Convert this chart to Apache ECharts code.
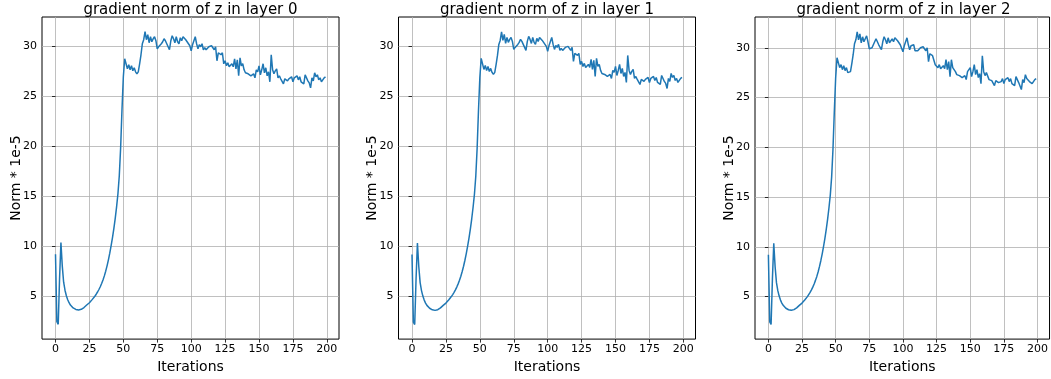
<!DOCTYPE html>
<html><head><meta charset="utf-8">
<script src="https://cdn.jsdelivr.net/npm/echarts@6/dist/echarts.min.js"></script>
<style>html,body{margin:0;padding:0;background:#fff}#c{width:1051px;height:379px}</style>
</head><body><div id="c"></div>
<script>
const titles = ['gradient norm of z in layer 0', 'gradient norm of z in layer 1', 'gradient norm of z in layer 2'];
const xTicks = [0, 25, 50, 75, 100, 125, 150, 175, 200];
const yTicks = [5, 10, 15, 20, 25, 30];

const normLayer0 = [
  9.2, 2.45, 2.2, 6.8, 10.35, 8.0, 6.4, 5.6, 5.05, 4.65,
  4.35, 4.12, 3.95, 3.83, 3.74, 3.68, 3.64, 3.62, 3.64, 3.69,
  3.77, 3.87, 3.99, 4.12, 4.22, 4.35, 4.5, 4.66, 4.83, 5.0,
  5.2, 5.42, 5.67, 5.95, 6.27, 6.63, 7.03, 7.5, 8.03, 8.63,
  9.3, 10.05, 10.85, 11.75, 12.75, 13.9, 15.2, 17.0, 19.8, 23.6,
  26.9, 28.7, 28.7, 27.7, 28.1, 27.6, 28.0, 27.5, 27.8, 27.4,
  27.2, 27.4, 28.2, 29.1, 30.2, 30.6, 31.4, 30.6, 31.1, 30.3,
  30.9, 30.4, 30.7, 30.9, 30.5, 29.7, 29.9, 29.8, 30.2, 30.4,
  30.7, 30.5, 30.2, 30.3, 29.6, 30.5, 31.0, 30.7, 30.3, 30.9,
  30.4, 30.2, 30.8, 30.5, 30.9, 31.0, 30.6, 30.4, 30.2, 30.0,
  29.5, 30.1, 30.0, 30.9, 30.2, 29.7, 30.1, 29.9, 30.2, 29.6,
  29.8, 29.6, 29.7, 29.9, 29.8, 30.0, 29.9, 29.6, 29.9, 28.5,
  29.3, 29.2, 29.1, 29.3, 28.2, 28.5, 28.0, 28.3, 27.9, 28.0,
  28.2, 27.9, 28.7, 27.7, 28.6, 27.0, 28.8, 28.0, 28.2, 27.6,
  27.3, 27.3, 27.2, 27.3, 27.0, 26.9, 27.2, 26.8, 27.6, 27.4,
  28.0, 27.1, 27.6, 28.2, 27.3, 27.8, 27.0, 27.4, 26.4, 29.1,
  27.6, 27.2, 27.5, 27.7, 26.8, 27.0, 26.7, 26.6, 26.2, 26.7,
  26.8, 26.5, 26.7, 26.6, 26.9, 26.4, 26.8, 26.7, 27.0, 26.6,
  26.9, 26.4, 26.3, 26.2, 27.1, 27.2, 26.5, 26.3, 25.8, 26.8,
  26.5, 27.3, 26.9, 27.1, 26.6, 26.8, 26.4, 26.5, 26.8, 26.9
];
const normLayer1 = [
  9.2, 2.45, 2.2, 6.8, 10.35, 8.0, 6.4, 5.6, 5.05, 4.65,
  4.35, 4.12, 3.95, 3.83, 3.74, 3.68, 3.64, 3.62, 3.64, 3.69,
  3.77, 3.87, 3.99, 4.12, 4.22, 4.35, 4.5, 4.66, 4.83, 5.0,
  5.2, 5.42, 5.67, 5.95, 6.27, 6.63, 7.03, 7.5, 8.03, 8.63,
  9.3, 10.05, 10.85, 11.75, 12.75, 13.9, 15.2, 17.0, 19.8, 23.6,
  26.9, 28.8, 28.7, 27.7, 28.1, 27.6, 28.0, 27.5, 27.8, 27.4,
  27.2, 27.4, 28.2, 29.1, 30.2, 30.6, 31.45, 30.6, 31.2, 30.3,
  30.9, 30.4, 30.7, 30.9, 30.5, 29.7, 29.9, 29.8, 30.2, 30.4,
  30.7, 30.5, 30.2, 30.3, 29.6, 30.5, 31.0, 30.7, 30.3, 30.9,
  30.4, 30.2, 30.8, 30.5, 30.9, 31.0, 30.6, 30.4, 30.2, 30.0,
  29.5, 30.1, 30.0, 30.9, 30.2, 29.7, 30.1, 29.9, 30.2, 29.6,
  29.8, 29.6, 29.7, 29.9, 29.8, 30.0, 29.9, 29.6, 29.9, 28.5,
  29.3, 29.2, 29.1, 29.3, 28.2, 28.5, 28.0, 28.3, 27.9, 28.0,
  28.2, 27.9, 28.7, 27.7, 28.6, 27.0, 28.8, 28.0, 28.2, 27.6,
  27.3, 27.3, 27.2, 27.3, 27.0, 26.9, 27.2, 26.8, 27.6, 27.4,
  28.0, 27.1, 27.6, 28.2, 27.3, 27.8, 27.0, 27.4, 26.4, 29.1,
  27.6, 27.2, 27.5, 27.7, 26.8, 27.0, 26.7, 26.6, 26.2, 26.7,
  26.8, 26.5, 26.7, 26.6, 26.9, 26.4, 26.8, 26.7, 27.0, 26.6,
  26.9, 26.4, 26.3, 26.2, 27.1, 27.2, 26.5, 26.3, 25.8, 26.8,
  26.5, 27.3, 26.9, 27.1, 26.6, 26.8, 26.4, 26.5, 26.8, 26.9
];
const normLayer2 = [
  9.2, 2.45, 2.2, 6.8, 10.35, 8.0, 6.4, 5.6, 5.05, 4.65,
  4.35, 4.12, 3.95, 3.83, 3.74, 3.68, 3.64, 3.62, 3.64, 3.69,
  3.77, 3.87, 3.99, 4.12, 4.22, 4.35, 4.5, 4.66, 4.83, 5.0,
  5.2, 5.42, 5.67, 5.95, 6.27, 6.63, 7.03, 7.5, 8.03, 8.63,
  9.3, 10.05, 10.85, 11.75, 12.75, 13.9, 15.2, 17.0, 19.8, 23.6,
  27.0, 29.0, 28.9, 28.0, 28.3, 27.8, 28.2, 27.7, 28.0, 27.5,
  27.4, 27.6, 28.4, 29.3, 30.4, 30.8, 31.6, 30.8, 31.4, 30.5,
  31.1, 30.6, 30.9, 31.2, 30.6, 29.9, 30.1, 30.0, 30.3, 30.6,
  30.9, 30.7, 30.3, 30.4, 29.8, 30.6, 31.1, 30.8, 30.4, 31.0,
  30.5, 30.3, 30.9, 30.6, 31.0, 31.0, 30.7, 30.5, 30.3, 30.1,
  29.6, 30.2, 30.1, 31.0, 30.3, 29.8, 30.2, 30.0, 30.3, 29.7,
  29.9, 29.7, 29.8, 30.0, 29.9, 30.1, 30.0, 29.7, 30.0, 28.6,
  29.4, 29.3, 29.2, 29.4, 28.3, 28.5, 28.0, 28.3, 27.9, 28.0,
  28.2, 27.9, 28.8, 27.8, 28.6, 27.1, 28.8, 28.0, 28.2, 27.6,
  27.3, 27.3, 27.2, 27.3, 27.0, 26.9, 27.2, 26.8, 27.6, 27.4,
  28.0, 27.1, 27.6, 28.3, 27.3, 27.8, 27.0, 27.4, 26.4, 29.2,
  27.6, 27.2, 27.5, 27.7, 26.8, 27.0, 26.7, 26.6, 26.2, 26.7,
  26.8, 26.5, 26.7, 26.6, 26.9, 26.4, 26.8, 26.7, 27.0, 26.6,
  26.9, 26.4, 26.3, 26.2, 27.1, 27.2, 26.5, 26.3, 25.8, 26.8,
  26.5, 27.3, 26.9, 27.1, 26.6, 26.8, 26.4, 26.5, 26.8, 26.9
];
const layers = [normLayer0, normLayer1, normLayer2];
const yRanges = [[0.72, 32.87], [0.75, 32.94], [0.73, 33.09]];

const gridLefts = [42, 398.5, 755];
const gridW = 297, gridTop = 17, gridH = 328;
const font = 'DejaVu Sans';

const option = {
  animation: false,
  backgroundColor: '#fff',
  title: titles.map((t, k) => ({
    text: t, left: gridLefts[k] + gridW / 2, top: 3, textAlign: 'center', padding: 0,
    textStyle: { fontFamily: font, fontSize: 15, fontWeight: 'normal', color: '#000', lineHeight: 15 }
  })),
  grid: gridLefts.map(l => ({ left: l, top: gridTop, width: gridW, height: gridH, show: true, borderColor: '#000', borderWidth: 1, backgroundColor: 'transparent', containLabel: false })),
  xAxis: gridLefts.map((l, k) => ({
    type: 'value', gridIndex: k, min: -9.95, max: 208.95,
    name: 'Iterations', nameLocation: 'middle', nameGap: 14,
    nameTextStyle: { fontFamily: font, fontSize: 14, color: '#000' },
    axisLine: { show: false },
    axisTick: { show: true, customValues: xTicks, length: 3.5, lineStyle: { color: '#000', width: 0.8 } },
    axisLabel: { customValues: xTicks, fontFamily: font, fontSize: 11, color: '#000', margin: 5 },
    splitLine: { show: true, lineStyle: { color: '#b0b0b0', width: 0.8 } }
  })),
  yAxis: gridLefts.map((l, k) => ({
    type: 'value', gridIndex: k, min: yRanges[k][0], max: yRanges[k][1],
    name: 'Norm * 1e-5', nameLocation: 'middle', nameGap: 19, nameMoveOverlap: false,
    nameTextStyle: { fontFamily: font, fontSize: 14, color: '#000' },
    axisLine: { show: false },
    axisTick: { show: true, customValues: yTicks, length: 3.5, lineStyle: { color: '#000', width: 0.8 } },
    axisLabel: { customValues: yTicks, fontFamily: font, fontSize: 11, color: '#000', margin: 5 },
    splitLine: { show: true, lineStyle: { color: '#b0b0b0', width: 0.8 } }
  })),
  series: layers.map((arr, k) => ({
    type: 'line', xAxisIndex: k, yAxisIndex: k,
    data: arr.map((v, i) => [i, v]),
    showSymbol: false, symbol: 'none', clip: true,
    lineStyle: { color: '#1f77b4', width: 1.5 }
  }))
};
const chart = echarts.init(document.getElementById('c'), null, { renderer: 'canvas' });
chart.setOption(option);
</script></body></html>
